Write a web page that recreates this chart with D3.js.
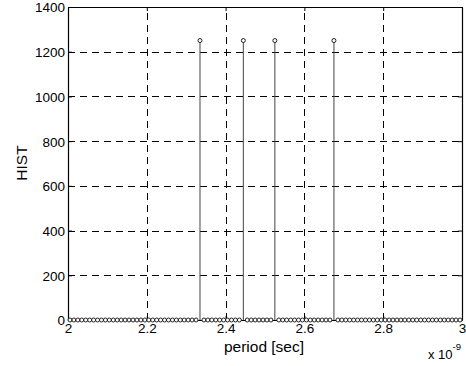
<!DOCTYPE html>
<html><head><meta charset="utf-8">
<script src="https://cdn.jsdelivr.net/npm/d3@7"></script>
<style>
body{margin:0;background:#fff;}
svg{display:block;font-family:"Liberation Sans",Arial,sans-serif;}
</style></head>
<body>
<svg id="chart" width="466" height="366"></svg>
<script>
// Bin centres (in units of 1e-9 s)
const binCenters = [
2.005,2.015,2.025,2.035,2.045,2.055,2.065,2.075,2.085,2.095,
2.105,2.115,2.125,2.135,2.145,2.155,2.165,2.175,2.185,2.195,
2.205,2.215,2.225,2.235,2.245,2.255,2.265,2.275,2.285,2.295,
2.305,2.315,2.325,2.335,2.345,2.355,2.365,2.375,2.385,2.395,
2.405,2.415,2.425,2.435,2.445,2.455,2.465,2.475,2.485,2.495,
2.505,2.515,2.525,2.535,2.545,2.555,2.565,2.575,2.585,2.595,
2.605,2.615,2.625,2.635,2.645,2.655,2.665,2.675,2.685,2.695,
2.705,2.715,2.725,2.735,2.745,2.755,2.765,2.775,2.785,2.795,
2.805,2.815,2.825,2.835,2.845,2.855,2.865,2.875,2.885,2.895,
2.905,2.915,2.925,2.935,2.945,2.955,2.965,2.975,2.985,2.995];
// Histogram counts
const counts = [
0,0,0,0,0,0,0,0,0,0,
0,0,0,0,0,0,0,0,0,0,
0,0,0,0,0,0,0,0,0,0,
0,0,0,1250,0,0,0,0,0,0,
0,0,0,0,1250,0,0,0,0,0,
0,0,1250,0,0,0,0,0,0,0,
0,0,0,0,0,0,0,1250,0,0,
0,0,0,0,0,0,0,0,0,0,
0,0,0,0,0,0,0,0,0,0,
0,0,0,0,0,0,0,0,0,0];
const xTicks = [2, 2.2, 2.4, 2.6, 2.8, 3];
const yTicks = [0, 200, 400, 600, 800, 1000, 1200, 1400];
const xTickLabels = ["2","2.2","2.4","2.6","2.8","3"];
const yTickLabels = ["0","200","400","600","800","1000","1200","1400"];

const svg = d3.select("#chart");
const L = 68, R = 462, T = 7, B = 320;
const x = d3.scaleLinear().domain([2, 3]).range([L, R]);
const y = d3.scaleLinear().domain([0, 1400]).range([B, T]);
const FONT = "'Liberation Sans',Arial,sans-serif";

// grid
const grid = svg.append("g").attr("stroke", "#000").attr("stroke-width", 1)
  .attr("stroke-dasharray", "7,5").attr("fill", "none");
xTicks.slice(1, -1).forEach(t => {
  grid.append("line").attr("x1", Math.round(x(t)) + 0.5).attr("x2", Math.round(x(t)) + 0.5)
    .attr("y1", B).attr("y2", T);
});
yTicks.slice(1, -1).forEach(t => {
  grid.append("line").attr("y1", Math.round(y(t)) + 0.5).attr("y2", Math.round(y(t)) + 0.5)
    .attr("x1", L).attr("x2", R);
});

// axes (ticks inward)
const xAxisB = d3.axisBottom(x).tickValues(xTicks).tickFormat((d, i) => xTickLabels[i])
  .tickSizeInner(-4).tickSizeOuter(0).tickPadding(3);
const gx = svg.append("g").attr("transform", `translate(0,${B})`).call(xAxisB);
const xAxisT = d3.axisTop(x).tickValues(xTicks).tickFormat("").tickSizeInner(-4).tickSizeOuter(0);
const gxt = svg.append("g").attr("transform", `translate(0,${T})`).call(xAxisT);
const yAxisL = d3.axisLeft(y).tickValues(yTicks).tickFormat((d, i) => yTickLabels[i])
  .tickSizeInner(-4).tickSizeOuter(0).tickPadding(3);
const gy = svg.append("g").attr("transform", `translate(${L},0)`).call(yAxisL);
const yAxisR = d3.axisRight(y).tickValues(yTicks).tickFormat("").tickSizeInner(-4).tickSizeOuter(0);
const gyr = svg.append("g").attr("transform", `translate(${R},0)`).call(yAxisR);
[gx, gxt, gy, gyr].forEach(g => {
  g.selectAll(".domain").attr("stroke", "#000").attr("stroke-width", 1.2);
  g.selectAll(".tick line").attr("stroke", "#000");
  g.selectAll("text").attr("font-family", FONT).attr("font-size", 13.5).attr("fill", "#000");
});
gx.selectAll("text").attr("dy", "0.71em");
gy.selectAll("text").attr("dy", "0.36em");

// stems
const pts = binCenters.map((c, i) => ({c, v: counts[i]}));
svg.append("g").selectAll("line").data(pts.filter(d => d.v > 0)).join("line")
  .attr("x1", d => x(d.c)).attr("x2", d => x(d.c))
  .attr("y1", y(0)).attr("y2", d => y(d.v))
  .attr("stroke", "#444").attr("stroke-width", 1);
svg.append("g").selectAll("circle").data(pts).join("circle")
  .attr("cx", d => x(d.c)).attr("cy", d => y(d.v)).attr("r", 2)
  .attr("fill", "#fff").attr("stroke", "#222").attr("stroke-width", 1);

// labels
svg.append("text").attr("x", 264).attr("y", 352).attr("text-anchor", "middle")
  .attr("font-family", FONT).attr("font-size", 15.5).text("period [sec]");
svg.append("text").attr("transform", "translate(27,163) rotate(-90)")
  .attr("text-anchor", "middle").attr("font-family", FONT).attr("font-size", 15.5).text("HIST");
const exp = svg.append("text").attr("x", 428).attr("y", 359)
  .attr("font-family", FONT).attr("font-size", 13);
exp.append("tspan").text("x 10");
exp.append("tspan").attr("dy", -9).attr("font-size", 9.5).text("-9");
</script>
</body></html>
